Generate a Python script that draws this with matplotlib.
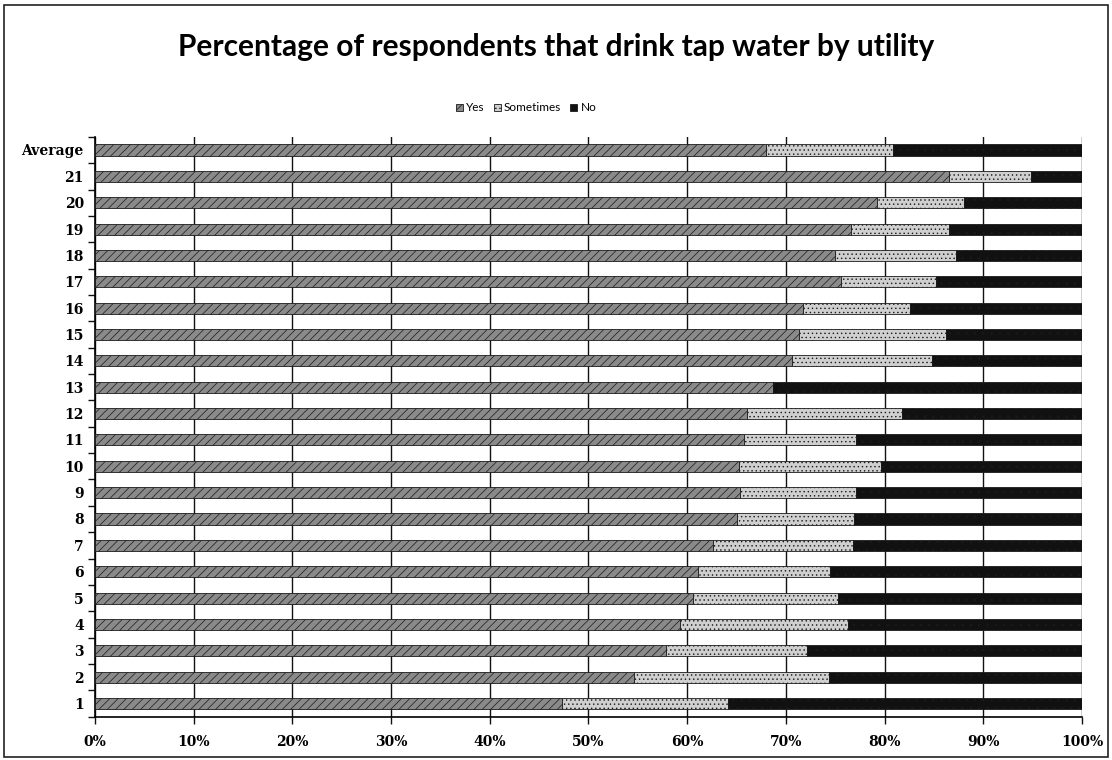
import numpy as np
import matplotlib
matplotlib.use('Agg')
import matplotlib.pyplot as plt
from matplotlib.patches import Rectangle
from matplotlib.ticker import FuncFormatter, FixedLocator

# ---- data: share of respondents per utility (percent) ----
categories = ['1', '2', '3', '4', '5', '6', '7', '8', '9', '10', '11',
              '12', '13', '14', '15', '16', '17', '18', '19', '20', '21', 'Average']
yes = [47.3, 54.6, 57.9, 59.3, 60.6, 61.1, 62.6, 65.0, 65.4, 65.3, 65.8,
       66.1, 68.7, 70.6, 71.3, 71.7, 75.6, 75.0, 76.6, 79.2, 86.5, 68.0]
sometimes = [16.8, 19.8, 14.2, 17.0, 14.7, 13.4, 14.2, 11.9, 11.7, 14.3, 11.3,
             15.7, 0.0, 14.2, 14.9, 10.9, 9.6, 12.2, 9.9, 8.8, 8.3, 12.9]
no = [100 - a - b for a, b in zip(yes, sometimes)]

series_names = ['Yes', 'Sometimes', 'No']
series_colors = ['#8a8a8a', '#cfcfcf', '#111111']
series_hatch = ['////', '....', '..']

plt.rcParams['hatch.color'] = '#ffffff'
plt.rcParams['hatch.linewidth'] = 0.5

fig = plt.figure(figsize=(11.12, 7.6), dpi=100)
fig.patch.set_facecolor('white')

# outer chart border
fig.add_artist(Rectangle((0.004, 0.004), 0.992, 0.990, transform=fig.transFigure,
                         fill=False, edgecolor='#222222', linewidth=1.2))

ax = fig.add_axes([0.0854, 0.057, 0.8876, 0.763])

y = np.arange(len(categories))
left = np.zeros(len(categories))
bars = []
for name, vals, col, hat in zip(series_names, [yes, sometimes, no], series_colors, series_hatch):
    b = ax.barh(y, vals, left=left, height=0.42, color=col, edgecolor='#1a1a1a',
                linewidth=0.6, label=name, zorder=3)
    for p in b:
        p.set_hatch(hat)
    bars.append(b)
    left += np.array(vals)

ax.set_xlim(0, 100)
ax.set_ylim(-0.5, len(categories) - 0.5)
ax.xaxis.set_major_locator(FixedLocator(np.arange(0, 101, 10)))
ax.xaxis.set_major_formatter(FuncFormatter(lambda v, _: f'{int(v)}%'))
ax.grid(axis='x', color='#111111', linewidth=1.0, zorder=0)
ax.set_axisbelow(True)

ax.set_yticks(y)
ax.set_yticklabels(categories)
ax.yaxis.set_minor_locator(FixedLocator(np.arange(-0.5, len(categories), 1)))
ax.tick_params(axis='y', which='major', length=0, pad=8, labelsize=10)
ax.tick_params(axis='y', which='minor', length=5, width=1, color='#111111', direction='out')
ax.tick_params(axis='x', which='major', length=5, width=1, color='#111111',
               direction='out', pad=8, labelsize=10)
for lbl in ax.get_yticklabels() + ax.get_xticklabels():
    lbl.set_family('DejaVu Serif')
    lbl.set_fontweight('bold')

for side in ['top', 'right']:
    ax.spines[side].set_visible(False)
ax.spines['left'].set_linewidth(1.2)
ax.spines['bottom'].set_linewidth(1.2)

fig.text(0.5, 0.938, 'Percentage of respondents that drink tap water by utility',
         ha='center', va='center', fontsize=21.5, fontweight='bold', family='Lato')

fig.legend(handles=[b[0] for b in bars], labels=series_names, loc='center',
           bbox_to_anchor=(0.473, 0.858), ncol=3, frameon=False,
           handlelength=0.6, handleheight=0.6, handletextpad=0.25, columnspacing=0.8,
           prop={'family': 'Lato', 'size': 8.5})

fig.savefig('out.png', dpi=100)
